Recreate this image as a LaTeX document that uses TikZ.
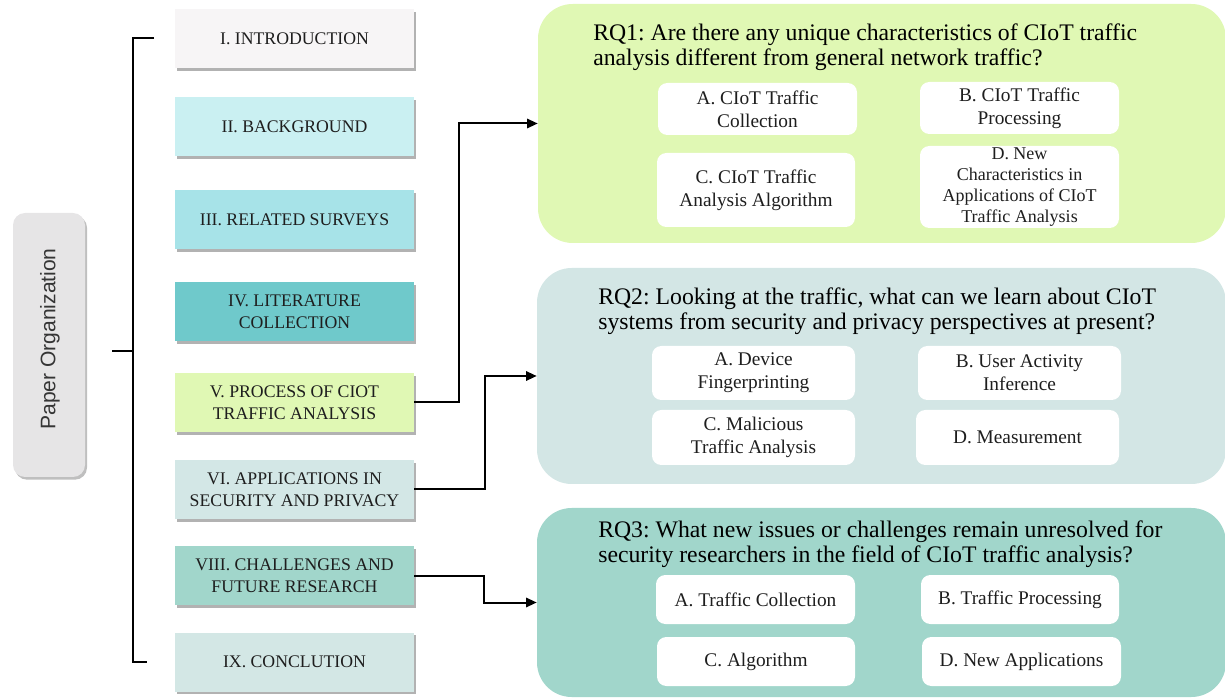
\documentclass[tikz,border=0pt]{standalone}
\usepackage{fontspec}
\setmainfont{Liberation Serif}
\newfontfamily\sansf{Liberation Sans}
\usetikzlibrary{arrows.meta,shadows}
\definecolor{txt}{HTML}{1E1E1E}
\definecolor{cIntro}{HTML}{F7F5F6}
\definecolor{cBack}{HTML}{CAF0F2}
\definecolor{cRel}{HTML}{A7E3E8}
\definecolor{cLit}{HTML}{6FC9CB}
\definecolor{cProc}{HTML}{E0F8B4}
\definecolor{cApp}{HTML}{D3E7E6}
\definecolor{cChal}{HTML}{A1D6CB}
\definecolor{cConc}{HTML}{D3E7E5}
\definecolor{cPaper}{HTML}{E6E5E6}
\definecolor{cRQone}{HTML}{E0F8B4}
\definecolor{cRQtwo}{HTML}{D3E6E5}
\definecolor{cRQthree}{HTML}{A1D6CB}
\frenchspacing
\begin{document}
\begin{tikzpicture}[x=0.75pt,y=-0.75pt,
  lbox/.style={rectangle, draw=none, inner sep=0pt, minimum width=179.25pt, minimum height=44.25pt,
    align=center, text=txt, font=\fontsize{13.3}{16.5}\selectfont,
    drop shadow={shadow xshift=1.6pt, shadow yshift=-2pt, opacity=0.3, fill=black}},
  rqbox/.style={rectangle, rounded corners=26pt, draw=none, inner sep=0pt},
  ibox/.style={rectangle, rounded corners=7pt, fill=white, draw=none, inner sep=0pt,
    align=center, text=txt, font=\fontsize{14.5}{17.25}\selectfont},
  iboxs/.style={ibox, font=\fontsize{13.5}{15.75}\selectfont},
  qtext/.style={anchor=north west, align=left, inner sep=0pt, text=black, font=\fontsize{17.8}{18.75}\selectfont},
  conn/.style={line width=1.5pt, -{Triangle[length=8pt,width=7pt]}},
  bline/.style={line width=1.5pt}
]
\useasboundingbox (0,0) rectangle (1225,698);

% left column
\node[rectangle, rounded corners=9pt, fill=cPaper, inner sep=0pt,
  minimum width=54pt, minimum height=198pt,
  drop shadow={shadow xshift=1.5pt, shadow yshift=-2pt, opacity=0.25, fill=black}]
  (paper) at (49,345) {};
\node[rotate=90, inner sep=0pt, text=txt!90, font=\sansf\fontsize{15.8}{18}\selectfont]
  (ptext) at (50,339) {Paper Organization};

\node[lbox, fill=cIntro] (intro) at (294.5,38.5) {I. INTRODUCTION};
\node[lbox, fill=cBack] (back) at (294.5,126.5) {II. BACKGROUND};
\node[lbox, fill=cRel] (rel) at (294.5,219.5) {III. RELATED SURVEYS};
\node[lbox, fill=cLit] (lit) at (294.5,311.5) {IV. LITERATURE\\COLLECTION};
\node[lbox, fill=cProc] (proc) at (294.5,402.5) {V. PROCESS OF CIOT\\TRAFFIC ANALYSIS};
\node[lbox, fill=cApp] (app) at (294.5,489.5) {VI. APPLICATIONS IN\\SECURITY AND PRIVACY};
\node[lbox, fill=cChal] (chal) at (294.5,575.5) {VIII. CHALLENGES AND\\FUTURE RESEARCH};
\node[lbox, fill=cConc] (conc) at (294.5,662) {IX. CONCLUTION};

% bracket
\coordinate (btop) at (154,38);
\coordinate (bbot) at (147,662);
\coordinate (bmid) at (112,351);
\coordinate (bx) at (133,351);
\draw[bline] (btop) -- (btop -| bx) -- (bbot -| bx) -- (bbot);
\draw[bline] (bmid) -- (bx);

% RQ containers
\node[rqbox, fill=cRQone, minimum width=516pt, minimum height=179.25pt] (rq1) at (882,123.5) {};
\node[rqbox, fill=cRQtwo, minimum width=516.75pt, minimum height=162pt] (rq2) at (881.5,376) {};
\node[rqbox, fill=cRQthree, minimum width=516.75pt, minimum height=141.75pt] (rq3) at (881.5,602.5) {};

\node[qtext] (q1) at (593,24) {RQ1: Are there any unique characteristics of CIoT traffic\\analysis different from general network traffic?};
\node[qtext] (q2) at (598,288) {RQ2: Looking at the traffic, what can we learn about CIoT\\systems from security and privacy perspectives at present?};
\node[qtext] (q3) at (598,521) {RQ3: What new issues or challenges remain unresolved for\\security researchers in the field of CIoT traffic analysis?};

% RQ1 items
\node[ibox, minimum width=149.25pt, minimum height=39pt] (r1a) at (757.5,109) {A. CIoT Traffic\\Collection};
\node[ibox, minimum width=149.25pt, minimum height=39pt] (r1b) at (1019.5,108) {B. CIoT Traffic\\Processing};
\node[ibox, minimum width=148.5pt, minimum height=55.5pt] (r1c) at (756,190) {C. CIoT Traffic\\Analysis Algorithm};
\node[iboxs, minimum width=149.25pt, minimum height=61.5pt] (r1d) at (1019.5,187) {D. New\\Characteristics in\\Applications of CIoT\\Traffic Analysis};

% RQ2 items
\node[ibox, minimum width=152.25pt, minimum height=40.5pt] (r2a) at (753.5,373) {A. Device\\Fingerprinting};
\node[ibox, minimum width=152.25pt, minimum height=40.5pt] (r2b) at (1019.5,373) {B. User Activity\\Inference};
\node[ibox, minimum width=152.25pt, minimum height=41.25pt] (r2c) at (753.5,437.5) {C. Malicious\\Traffic Analysis};
\node[ibox, minimum width=152.25pt, minimum height=41.25pt] (r2d) at (1017.5,437.5) {D. Measurement};

% RQ3 items
\node[ibox, minimum width=149.25pt, minimum height=36.75pt] (r3a) at (755.5,599.5) {A. Traffic Collection};
\node[ibox, minimum width=148.5pt, minimum height=36.75pt] (r3b) at (1020,599.5) {B. Traffic Processing};
\node[ibox, minimum width=148.5pt, minimum height=36.75pt] (r3c) at (756,661.5) {C. Algorithm};
\node[ibox, minimum width=149.25pt, minimum height=36.75pt] (r3d) at (1021.5,661.5) {D. New Applications};

% connectors
\draw[conn] (proc.east) -- ++(45,0) |- (rq1.west);
\draw[conn] (app.east) -- ++(71,0) |- (rq2.west);
\draw[conn] (chal.east) -- ++(70,0) |- (rq3.west);
\end{tikzpicture}
\end{document}
